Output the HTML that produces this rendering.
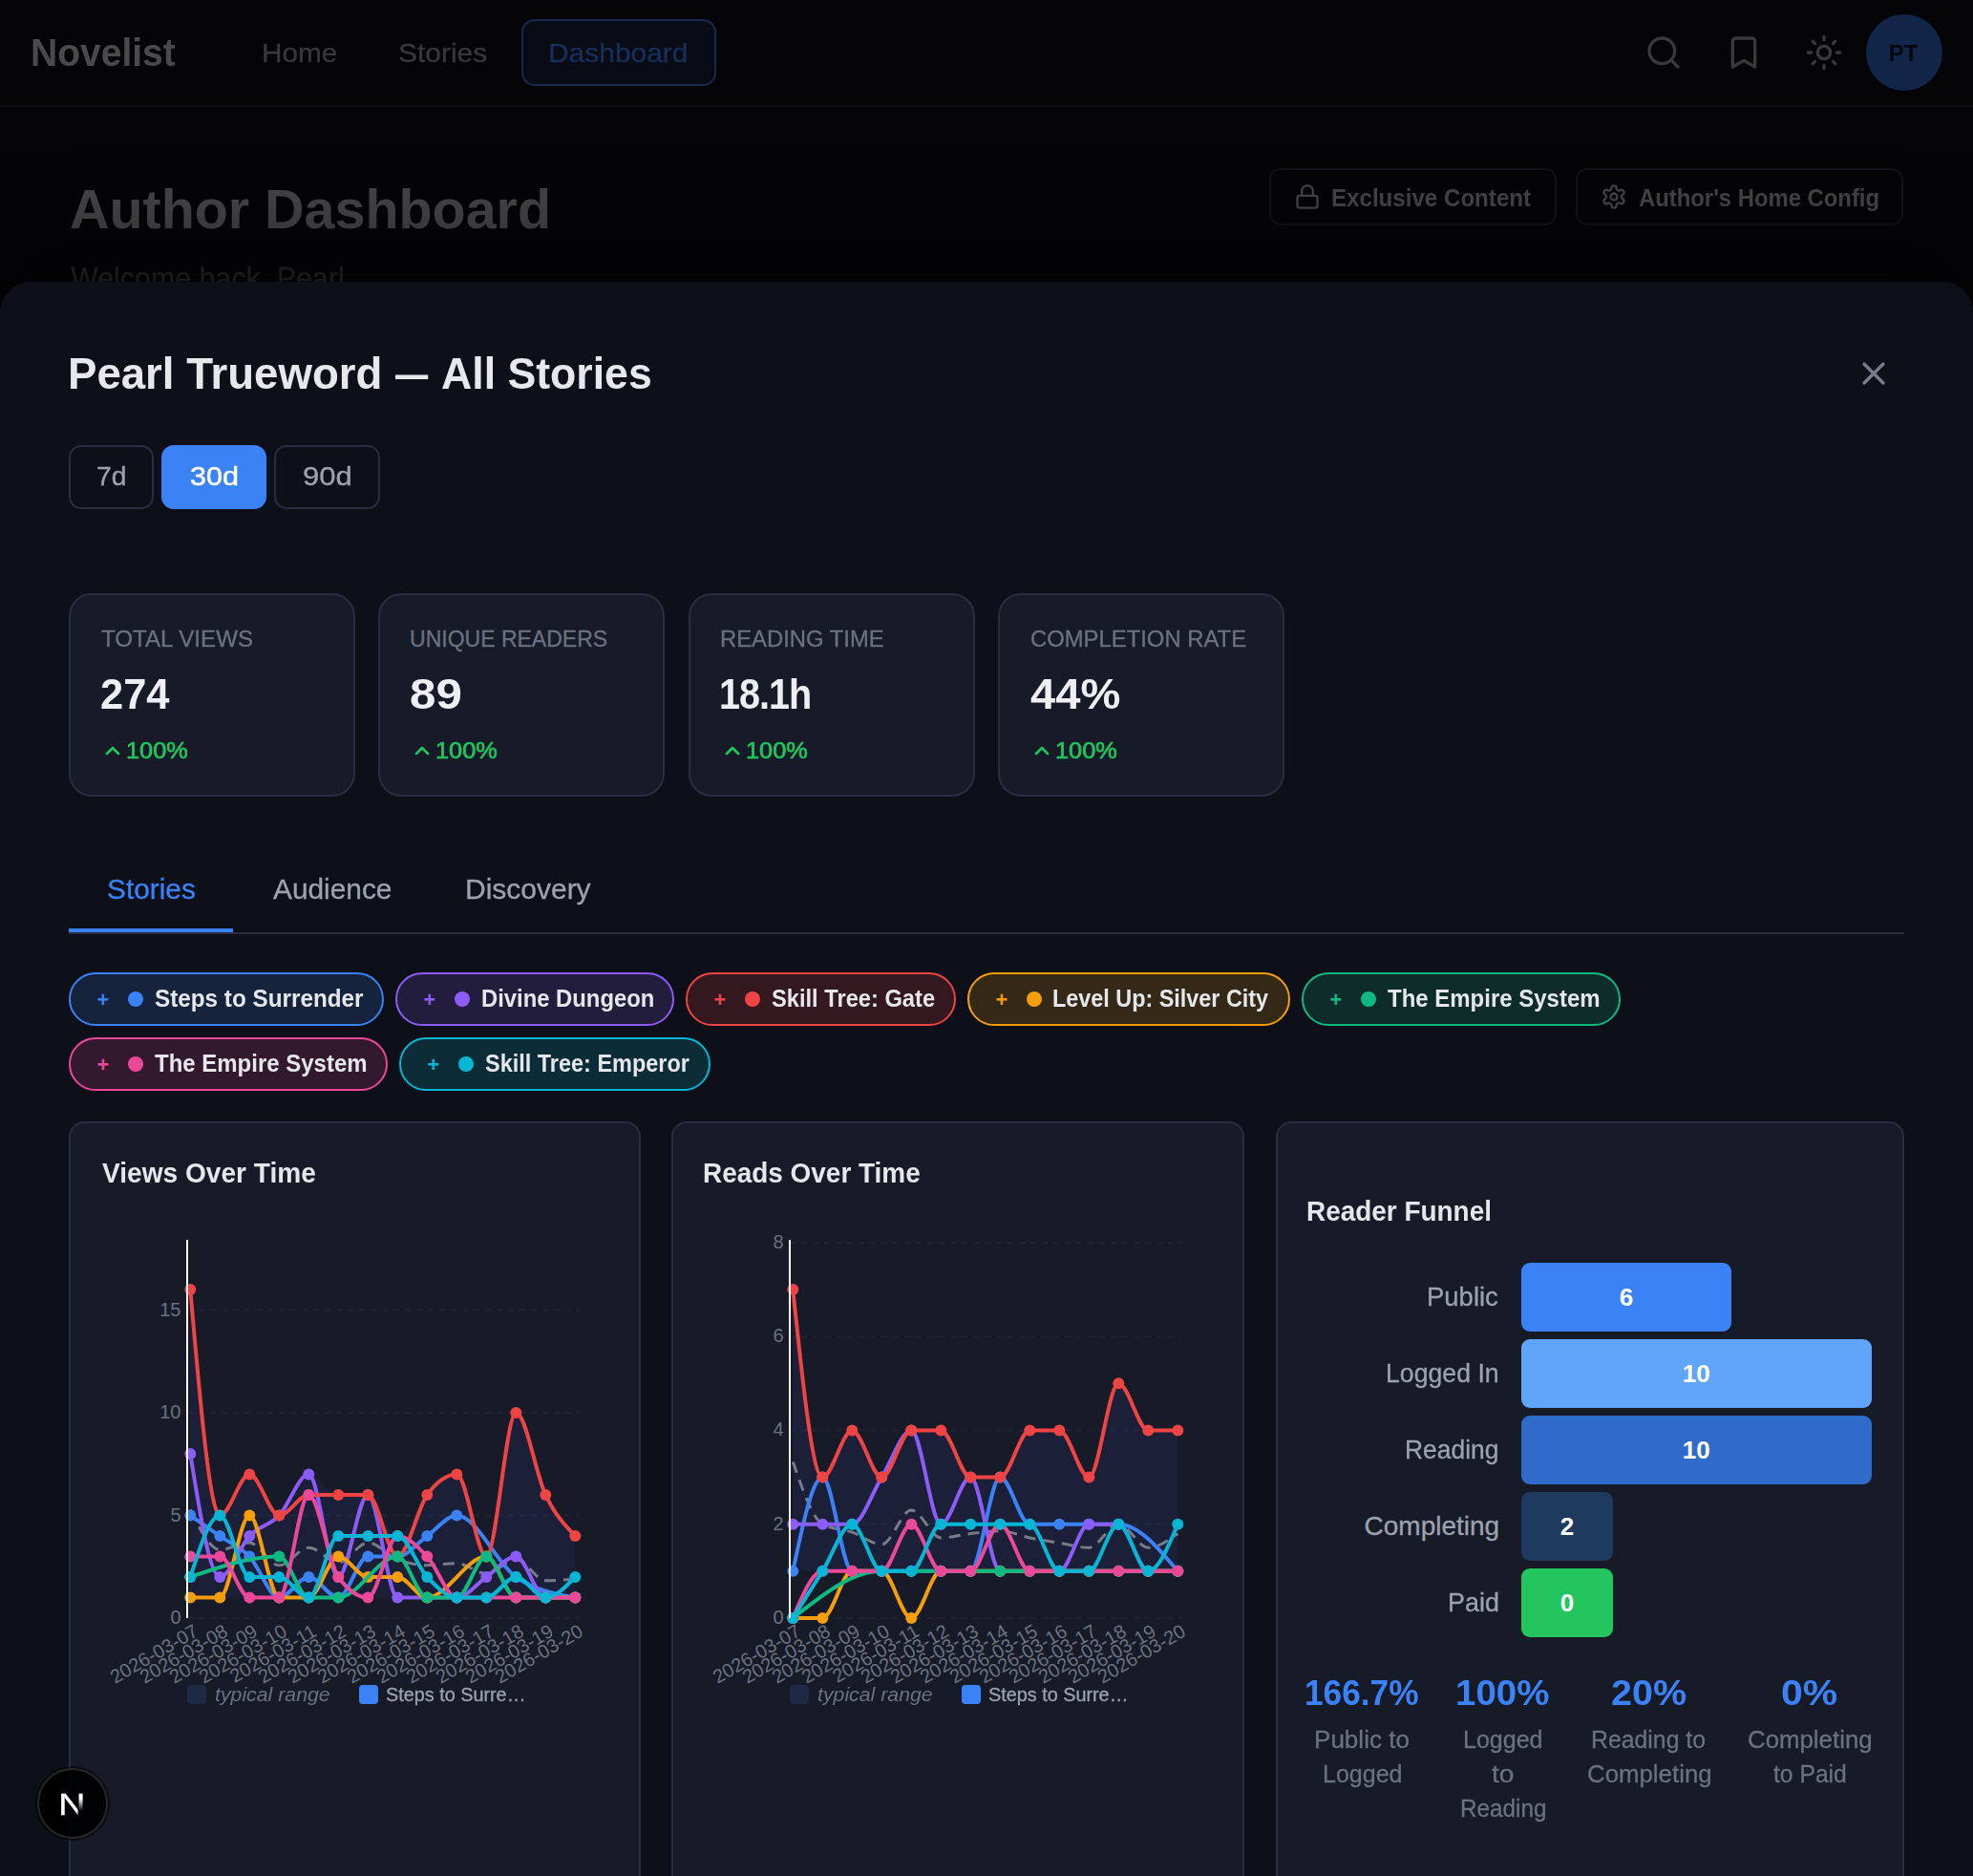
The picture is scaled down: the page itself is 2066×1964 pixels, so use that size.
<!DOCTYPE html>
<html lang="en">
<head>
<meta charset="utf-8">
<title>Novelist - Author Dashboard</title>
<style>
html,body{margin:0;padding:0;}
body{width:2066px;height:1964px;overflow:hidden;position:relative;background:#050508;font-family:"Liberation Sans",Arial,sans-serif;-webkit-font-smoothing:antialiased;}
.b{position:absolute;box-sizing:border-box;display:block;}
.t{position:absolute;line-height:1;white-space:nowrap;display:block;transform-origin:0 50%;}
@media (max-width:1400px){html{zoom:0.5;}}
</style>
</head>
<body>
<header aria-label="Site navigation">
<div class="b" style="left:0px;top:110px;width:2066px;height:2px;background:#0e0f15;"></div>
<span class="t" style="left:31.64px;top:35.34px;font-size:40px;color:#4a4a4c;font-weight:700;transform:scaleX(0.9757);">Novelist</span>
<span class="t" style="left:274.31px;top:41.70px;font-size:28px;color:#38393b;transform:scaleX(1.0611);-webkit-text-stroke:0.3px #38393b;">Home</span>
<span class="t" style="left:416.76px;top:41.70px;font-size:28px;color:#38393b;transform:scaleX(1.0698);-webkit-text-stroke:0.3px #38393b;">Stories</span>
<div class="b" style="left:546px;top:20px;width:204px;height:70px;background:#090b15;border:2px solid #162a4e;border-radius:14px;"></div>
<span class="t" style="left:574.09px;top:41.70px;font-size:28px;color:#17305a;transform:scaleX(1.0692);-webkit-text-stroke:0.3px #17305a;">Dashboard</span>
<svg class="b" style="left:1722px;top:35px;" width="40" height="40" viewBox="0 0 24 24" fill="none" stroke="#38393b" stroke-width="2" stroke-linecap="round" stroke-linejoin="round"><circle cx="11" cy="11" r="8"/><path d="m21 21-4.3-4.3"/></svg>
<svg class="b" style="left:1806px;top:35px;" width="40" height="40" viewBox="0 0 24 24" fill="none" stroke="#38393b" stroke-width="2" stroke-linecap="round" stroke-linejoin="round"><path d="m19 21-7-4-7 4V5a2 2 0 0 1 2-2h10a2 2 0 0 1 2 2v16z"/></svg>
<svg class="b" style="left:1890px;top:35px;" width="40" height="40" viewBox="0 0 24 24" fill="none" stroke="#38393b" stroke-width="2" stroke-linecap="round" stroke-linejoin="round"><circle cx="12" cy="12" r="4"/><path d="M12 2v2"/><path d="M12 20v2"/><path d="m4.93 4.93 1.41 1.41"/><path d="m17.66 17.66 1.41 1.41"/><path d="M2 12h2"/><path d="M20 12h2"/><path d="m6.34 17.66-1.41 1.41"/><path d="m19.07 4.93-1.41 1.41"/></svg>
<div class="b" style="left:1954px;top:15px;width:80px;height:80px;background:#12264a;border-radius:40px;"></div>
<span class="t" style="left:1977.80px;top:43.68px;font-size:24px;color:#05080f;font-weight:700;">PT</span>
</header>
<main aria-label="Author Dashboard">
<span class="t" style="left:72.74px;top:189.80px;font-size:58px;color:#444446;font-weight:700;transform:scaleX(0.9899);">Author Dashboard</span>
<span class="t" style="left:73.68px;top:274.91px;font-size:32px;color:#2b2b2d;transform:scaleX(0.9499);-webkit-text-stroke:0.3px #2b2b2d;">Welcome back, Pearl</span>
<div class="b" style="left:1329px;top:176px;width:301px;height:60px;border:2px solid #121318;border-radius:12px;"></div>
<svg class="b" style="left:1354.7px;top:191.5px;" width="28" height="28" viewBox="0 0 24 24" fill="none" stroke="#444446" stroke-width="2" stroke-linecap="round" stroke-linejoin="round"><rect width="18" height="11" x="3" y="11" rx="2" ry="2"/><path d="M7 11V7a5 5 0 0 1 10 0v4"/></svg>
<span class="t" style="left:1394.39px;top:193.99px;font-size:26px;color:#444446;font-weight:700;transform:scaleX(0.9275);">Exclusive Content</span>
<div class="b" style="left:1650px;top:176px;width:343px;height:60px;border:2px solid #121318;border-radius:12px;"></div>
<svg class="b" style="left:1676px;top:191.5px;" width="28" height="28" viewBox="0 0 24 24" fill="none" stroke="#444446" stroke-width="2" stroke-linecap="round" stroke-linejoin="round"><path d="M12.22 2h-.44a2 2 0 0 0-2 2v.18a2 2 0 0 1-1 1.73l-.43.25a2 2 0 0 1-2 0l-.15-.08a2 2 0 0 0-2.73.73l-.22.38a2 2 0 0 0 .73 2.73l.15.1a2 2 0 0 1 1 1.72v.51a2 2 0 0 1-1 1.74l-.15.09a2 2 0 0 0-.73 2.73l.22.38a2 2 0 0 0 2.73.73l.15-.08a2 2 0 0 1 2 0l.43.25a2 2 0 0 1 1 1.73V20a2 2 0 0 0 2 2h.44a2 2 0 0 0 2-2v-.18a2 2 0 0 1 1-1.73l.43-.25a2 2 0 0 1 2 0l.15.08a2 2 0 0 0 2.73-.73l.22-.39a2 2 0 0 0-.73-2.73l-.15-.08a2 2 0 0 1-1-1.74v-.5a2 2 0 0 1 1-1.74l.15-.09a2 2 0 0 0 .73-2.73l-.22-.38a2 2 0 0 0-2.73-.73l-.15.08a2 2 0 0 1-2 0l-.43-.25a2 2 0 0 1-1-1.73V4a2 2 0 0 0-2-2z"/><circle cx="12" cy="12" r="3"/></svg>
<span class="t" style="left:1715.63px;top:193.99px;font-size:26px;color:#444446;font-weight:700;transform:scaleX(0.9170);">Author's Home Config</span>
</main>
<section role="dialog" aria-modal="true" aria-label="Pearl Trueword - All Stories analytics">
<div class="b" style="left:0px;top:295px;width:2066px;height:1700px;background:#0e1019;border-radius:32px 32px 0 0;box-shadow:0 -30px 90px rgba(0,0,0,0.55);"></div>
<span class="t" style="left:71.43px;top:368.36px;font-size:46px;color:#e7e8ec;font-weight:700;transform:scaleX(0.9909);">Pearl Trueword</span>
<span class="t" style="left:413.50px;top:368.61px;font-size:45px;color:#e7e8ec;font-weight:700;transform:scaleX(0.76);transform-origin:0 50%;">—</span>
<span class="t" style="left:461.91px;top:368.36px;font-size:46px;color:#e7e8ec;font-weight:700;transform:scaleX(0.9702);">All Stories</span>
<svg class="b" style="left:1942px;top:371px;" width="40" height="40" viewBox="0 0 24 24" fill="none" stroke="#787d8c" stroke-width="2" stroke-linecap="round" stroke-linejoin="round"><path d="M18 6 6 18"/><path d="m6 6 12 12"/></svg>
<div class="b" style="left:72px;top:466px;width:89px;height:67px;border:2px solid #2a2d40;border-radius:13px;"></div>
<span class="t" style="left:101.11px;top:484.50px;font-size:28px;color:#9ca3af;transform:scaleX(1.0098);-webkit-text-stroke:0.3px #9ca3af;">7d</span>
<div class="b" style="left:169px;top:466px;width:110px;height:67px;background:#3b82f6;border-radius:13px;"></div>
<span class="t" style="left:198.91px;top:484.50px;font-size:28px;color:#ffffff;transform:scaleX(1.0909);-webkit-text-stroke:0.5px #ffffff;">30d</span>
<div class="b" style="left:287px;top:466px;width:111px;height:67px;border:2px solid #2a2d40;border-radius:13px;"></div>
<span class="t" style="left:316.51px;top:484.50px;font-size:28px;color:#9ca3af;transform:scaleX(1.1109);-webkit-text-stroke:0.3px #9ca3af;">90d</span>
<div class="b" style="left:72px;top:621px;width:300px;height:213px;background:#171a27;border:2px solid #2a2d40;border-radius:24px;"></div>
<span class="t" style="left:106.28px;top:657.53px;font-size:23px;color:#6b7280;transform:scaleX(1.0483);-webkit-text-stroke:0.3px #6b7280;">TOTAL VIEWS</span>
<span class="t" style="left:105.32px;top:704.75px;font-size:44px;color:#eeeff2;font-weight:700;transform:scaleX(0.9882);">274</span>
<svg class="b" style="left:106px;top:774px;" width="24" height="24" viewBox="0 0 24 24" fill="none" stroke="#22c55e" stroke-width="2.7" stroke-linecap="round" stroke-linejoin="round"><path d="m18 15-6-6-6 6"/></svg>
<span class="t" style="left:132.25px;top:773.78px;font-size:24px;color:#22c55e;transform:scaleX(1.0553);-webkit-text-stroke:0.7px #22c55e;">100%</span>
<div class="b" style="left:396px;top:621px;width:300px;height:213px;background:#171a27;border:2px solid #2a2d40;border-radius:24px;"></div>
<span class="t" style="left:429.05px;top:657.53px;font-size:23px;color:#6b7280;-webkit-text-stroke:0.3px #6b7280;">UNIQUE READERS</span>
<span class="t" style="left:429.26px;top:704.75px;font-size:44px;color:#eeeff2;font-weight:700;letter-spacing:0.161px;transform:scaleX(1.1200);">89</span>
<svg class="b" style="left:430px;top:774px;" width="24" height="24" viewBox="0 0 24 24" fill="none" stroke="#22c55e" stroke-width="2.7" stroke-linecap="round" stroke-linejoin="round"><path d="m18 15-6-6-6 6"/></svg>
<span class="t" style="left:456.25px;top:773.78px;font-size:24px;color:#22c55e;transform:scaleX(1.0553);-webkit-text-stroke:0.7px #22c55e;">100%</span>
<div class="b" style="left:721px;top:621px;width:300px;height:213px;background:#171a27;border:2px solid #2a2d40;border-radius:24px;"></div>
<span class="t" style="left:753.86px;top:657.53px;font-size:23px;color:#6b7280;transform:scaleX(1.0364);-webkit-text-stroke:0.3px #6b7280;">READING TIME</span>
<span class="t" style="left:753.32px;top:704.75px;font-size:44px;color:#eeeff2;font-weight:700;letter-spacing:-1.115px;transform:scaleX(0.9000);">18.1h</span>
<svg class="b" style="left:755px;top:774px;" width="24" height="24" viewBox="0 0 24 24" fill="none" stroke="#22c55e" stroke-width="2.7" stroke-linecap="round" stroke-linejoin="round"><path d="m18 15-6-6-6 6"/></svg>
<span class="t" style="left:781.25px;top:773.78px;font-size:24px;color:#22c55e;transform:scaleX(1.0553);-webkit-text-stroke:0.7px #22c55e;">100%</span>
<div class="b" style="left:1045px;top:621px;width:300px;height:213px;background:#171a27;border:2px solid #2a2d40;border-radius:24px;"></div>
<span class="t" style="left:1078.63px;top:657.53px;font-size:23px;color:#6b7280;transform:scaleX(1.0366);-webkit-text-stroke:0.3px #6b7280;">COMPLETION RATE</span>
<span class="t" style="left:1079.13px;top:704.75px;font-size:44px;color:#eeeff2;font-weight:700;transform:scaleX(1.0709);">44%</span>
<svg class="b" style="left:1079px;top:774px;" width="24" height="24" viewBox="0 0 24 24" fill="none" stroke="#22c55e" stroke-width="2.7" stroke-linecap="round" stroke-linejoin="round"><path d="m18 15-6-6-6 6"/></svg>
<span class="t" style="left:1105.25px;top:773.78px;font-size:24px;color:#22c55e;transform:scaleX(1.0553);-webkit-text-stroke:0.7px #22c55e;">100%</span>
<div class="b" style="left:72px;top:976px;width:1922px;height:2px;background:#292c3d;"></div>
<div class="b" style="left:72px;top:972px;width:172px;height:4px;background:#3b82f6;"></div>
<span class="t" style="left:111.51px;top:916.85px;font-size:29px;color:#3b82f6;transform:scaleX(1.0284);-webkit-text-stroke:0.3px #3b82f6;">Stories</span>
<span class="t" style="left:285.60px;top:916.85px;font-size:29px;color:#9ca3af;transform:scaleX(1.0290);-webkit-text-stroke:0.3px #9ca3af;">Audience</span>
<span class="t" style="left:487.44px;top:916.85px;font-size:29px;color:#9ca3af;transform:scaleX(1.0338);-webkit-text-stroke:0.3px #9ca3af;">Discovery</span>
<div class="b" style="left:72px;top:1018px;width:330px;height:56px;background:rgba(59,130,246,0.17);border:2px solid #3b82f6;border-radius:28px;"></div>
<span class="t" style="left:101.53px;top:1037.40px;font-size:21.5px;color:#3b82f6;font-weight:700;">+</span>
<div class="b" style="left:134px;top:1038px;width:16px;height:16px;background:#3b82f6;border-radius:8px;"></div>
<span class="t" style="left:161.80px;top:1032.49px;font-size:26px;color:#e5e7eb;font-weight:700;transform:scaleX(0.9335);">Steps to Surrender</span>
<div class="b" style="left:414px;top:1018px;width:292px;height:56px;background:rgba(139,92,246,0.17);border:2px solid #8b5cf6;border-radius:28px;"></div>
<span class="t" style="left:443.52px;top:1037.40px;font-size:21.5px;color:#8b5cf6;font-weight:700;">+</span>
<div class="b" style="left:476px;top:1038px;width:16px;height:16px;background:#8b5cf6;border-radius:8px;"></div>
<span class="t" style="left:503.71px;top:1032.49px;font-size:26px;color:#e5e7eb;font-weight:700;transform:scaleX(0.9160);">Divine Dungeon</span>
<div class="b" style="left:718px;top:1018px;width:283px;height:56px;background:rgba(239,68,68,0.17);border:2px solid #ef4444;border-radius:28px;"></div>
<span class="t" style="left:747.52px;top:1037.40px;font-size:21.5px;color:#ef4444;font-weight:700;">+</span>
<div class="b" style="left:780px;top:1038px;width:16px;height:16px;background:#ef4444;border-radius:8px;"></div>
<span class="t" style="left:807.72px;top:1032.49px;font-size:26px;color:#e5e7eb;font-weight:700;transform:scaleX(0.9106);">Skill Tree: Gate</span>
<div class="b" style="left:1013px;top:1018px;width:338px;height:56px;background:rgba(245,158,11,0.17);border:2px solid #f59e0b;border-radius:28px;"></div>
<span class="t" style="left:1042.53px;top:1037.40px;font-size:21.5px;color:#f59e0b;font-weight:700;">+</span>
<div class="b" style="left:1075px;top:1038px;width:16px;height:16px;background:#f59e0b;border-radius:8px;"></div>
<span class="t" style="left:1101.74px;top:1032.49px;font-size:26px;color:#e5e7eb;font-weight:700;letter-spacing:-0.010px;transform:scaleX(0.9000);">Level Up: Silver City</span>
<div class="b" style="left:1363px;top:1018px;width:334px;height:56px;background:rgba(16,185,129,0.17);border:2px solid #10b981;border-radius:28px;"></div>
<span class="t" style="left:1392.53px;top:1037.40px;font-size:21.5px;color:#10b981;font-weight:700;">+</span>
<div class="b" style="left:1425px;top:1038px;width:16px;height:16px;background:#10b981;border-radius:8px;"></div>
<span class="t" style="left:1453.17px;top:1032.49px;font-size:26px;color:#e5e7eb;font-weight:700;transform:scaleX(0.9223);">The Empire System</span>
<div class="b" style="left:72px;top:1086px;width:334px;height:56px;background:rgba(236,72,153,0.17);border:2px solid #ec4899;border-radius:28px;"></div>
<span class="t" style="left:101.53px;top:1105.40px;font-size:21.5px;color:#ec4899;font-weight:700;">+</span>
<div class="b" style="left:134px;top:1106px;width:16px;height:16px;background:#ec4899;border-radius:8px;"></div>
<span class="t" style="left:162.27px;top:1100.49px;font-size:26px;color:#e5e7eb;font-weight:700;transform:scaleX(0.9223);">The Empire System</span>
<div class="b" style="left:418px;top:1086px;width:326px;height:56px;background:rgba(6,182,212,0.17);border:2px solid #06b6d4;border-radius:28px;"></div>
<span class="t" style="left:447.52px;top:1105.40px;font-size:21.5px;color:#06b6d4;font-weight:700;">+</span>
<div class="b" style="left:480px;top:1106px;width:16px;height:16px;background:#06b6d4;border-radius:8px;"></div>
<span class="t" style="left:508.02px;top:1100.49px;font-size:26px;color:#e5e7eb;font-weight:700;transform:scaleX(0.9026);">Skill Tree: Emperor</span>
<div class="b" style="left:72px;top:1174px;width:599px;height:900px;background:#171a27;border:2px solid #2a2d40;border-radius:16px;"></div>
<div class="b" style="left:703px;top:1174px;width:600px;height:900px;background:#171a27;border:2px solid #2a2d40;border-radius:16px;"></div>
<div class="b" style="left:1336px;top:1174px;width:658px;height:900px;background:#171a27;border:2px solid #2a2d40;border-radius:16px;"></div>
<span class="t" style="left:106.58px;top:1213.85px;font-size:29px;color:#e5e7eb;font-weight:700;transform:scaleX(0.9690);">Views Over Time</span>
<span class="t" style="left:736.39px;top:1213.85px;font-size:29px;color:#e5e7eb;font-weight:700;transform:scaleX(0.9631);">Reads Over Time</span>
<span class="t" style="left:1367.59px;top:1254.15px;font-size:29px;color:#e5e7eb;font-weight:700;transform:scaleX(0.9629);">Reader Funnel</span>
<svg class="b" style="left:72px;top:1280px" width="560" height="540" viewBox="72 1280 560 540" font-family="Liberation Sans, Arial, sans-serif" role="img" aria-label="Views Over Time"><line x1="196" x2="606" y1="1694.00" y2="1694.00" stroke="#1f2435" stroke-width="2" stroke-dasharray="6 6"/><line x1="196" x2="606" y1="1586.53" y2="1586.53" stroke="#1f2435" stroke-width="2" stroke-dasharray="6 6"/><line x1="196" x2="606" y1="1479.05" y2="1479.05" stroke="#1f2435" stroke-width="2" stroke-dasharray="6 6"/><line x1="196" x2="606" y1="1371.58" y2="1371.58" stroke="#1f2435" stroke-width="2" stroke-dasharray="6 6"/><text x="189.5" y="1700.00" text-anchor="end" font-size="20" fill="#6b7280">0</text><text x="189.5" y="1592.53" text-anchor="end" font-size="20" fill="#6b7280">5</text><text x="189.5" y="1485.05" text-anchor="end" font-size="20" fill="#6b7280">10</text><text x="189.5" y="1377.58" text-anchor="end" font-size="20" fill="#6b7280">15</text><text x="209.00" y="1711.80" text-anchor="end" font-size="20" fill="#6b7280" transform="rotate(-30 209.00 1711.80)">2026-03-07</text><text x="240.00" y="1711.80" text-anchor="end" font-size="20" fill="#6b7280" transform="rotate(-30 240.00 1711.80)">2026-03-08</text><text x="271.00" y="1711.80" text-anchor="end" font-size="20" fill="#6b7280" transform="rotate(-30 271.00 1711.80)">2026-03-09</text><text x="302.00" y="1711.80" text-anchor="end" font-size="20" fill="#6b7280" transform="rotate(-30 302.00 1711.80)">2026-03-10</text><text x="333.00" y="1711.80" text-anchor="end" font-size="20" fill="#6b7280" transform="rotate(-30 333.00 1711.80)">2026-03-11</text><text x="364.00" y="1711.80" text-anchor="end" font-size="20" fill="#6b7280" transform="rotate(-30 364.00 1711.80)">2026-03-12</text><text x="395.00" y="1711.80" text-anchor="end" font-size="20" fill="#6b7280" transform="rotate(-30 395.00 1711.80)">2026-03-13</text><text x="426.00" y="1711.80" text-anchor="end" font-size="20" fill="#6b7280" transform="rotate(-30 426.00 1711.80)">2026-03-14</text><text x="457.00" y="1711.80" text-anchor="end" font-size="20" fill="#6b7280" transform="rotate(-30 457.00 1711.80)">2026-03-15</text><text x="488.00" y="1711.80" text-anchor="end" font-size="20" fill="#6b7280" transform="rotate(-30 488.00 1711.80)">2026-03-16</text><text x="519.00" y="1711.80" text-anchor="end" font-size="20" fill="#6b7280" transform="rotate(-30 519.00 1711.80)">2026-03-17</text><text x="550.00" y="1711.80" text-anchor="end" font-size="20" fill="#6b7280" transform="rotate(-30 550.00 1711.80)">2026-03-18</text><text x="581.00" y="1711.80" text-anchor="end" font-size="20" fill="#6b7280" transform="rotate(-30 581.00 1711.80)">2026-03-19</text><text x="612.00" y="1711.80" text-anchor="end" font-size="20" fill="#6b7280" transform="rotate(-30 612.00 1711.80)">2026-03-20</text><path d="M199.30,1350.09C209.63,1468.31,219.97,1586.53,230.30,1586.53C240.63,1586.53,250.97,1543.54,261.30,1543.54C271.63,1543.54,281.97,1586.53,292.30,1586.53C302.63,1586.53,312.97,1543.54,323.30,1543.54C333.63,1543.54,343.97,1565.03,354.30,1565.03C364.63,1565.03,374.97,1565.03,385.30,1565.03C395.63,1565.03,405.97,1608.02,416.30,1608.02C426.63,1608.02,436.97,1575.78,447.30,1565.03C457.63,1554.29,467.97,1543.54,478.30,1543.54C488.63,1543.54,498.97,1629.52,509.30,1629.52C519.63,1629.52,529.97,1479.05,540.30,1479.05C550.63,1479.05,560.97,1543.54,571.30,1565.03C581.63,1586.53,591.97,1597.27,602.30,1608.02L602.30,1672.51C591.97,1672.51,581.63,1672.51,571.30,1672.51C560.97,1672.51,550.63,1672.51,540.30,1672.51C529.97,1672.51,519.63,1672.51,509.30,1672.51C498.97,1672.51,488.63,1672.51,478.30,1672.51C467.97,1672.51,457.63,1672.51,447.30,1672.51C436.97,1672.51,426.63,1672.51,416.30,1672.51C405.97,1672.51,395.63,1672.51,385.30,1672.51C374.97,1672.51,364.63,1672.51,354.30,1672.51C343.97,1672.51,333.63,1672.51,323.30,1672.51C312.97,1672.51,302.63,1672.51,292.30,1672.51C281.97,1672.51,271.63,1672.51,261.30,1672.51C250.97,1672.51,240.63,1672.51,230.30,1672.51C219.97,1672.51,209.63,1672.51,199.30,1672.51Z" fill="rgba(70,110,240,0.085)" stroke="none"/><path d="M199.30,1580.29C209.63,1601.36,219.97,1622.42,230.30,1622.42C240.63,1622.42,250.97,1615.11,261.30,1615.11C271.63,1615.11,281.97,1638.76,292.30,1638.76C302.63,1638.76,312.97,1620.27,323.30,1620.27C333.63,1620.27,343.97,1635.75,354.30,1635.75C364.63,1635.75,374.97,1615.11,385.30,1615.11C395.63,1615.11,405.97,1628.58,416.30,1632.53C426.63,1636.47,436.97,1638.76,447.30,1638.76C457.63,1638.76,467.97,1636.61,478.30,1636.61C488.63,1636.61,498.97,1647.36,509.30,1647.36C519.63,1647.36,529.97,1632.53,540.30,1632.53C550.63,1632.53,560.97,1654.66,571.30,1654.66C581.63,1654.66,591.97,1653.91,602.30,1653.16" fill="none" stroke="#777c88" stroke-width="3" stroke-dasharray="12 8"/><path d="M199.30,1586.53C209.63,1593.69,219.97,1600.86,230.30,1608.02C240.63,1615.19,250.97,1618.77,261.30,1629.52C271.63,1640.26,281.97,1672.51,292.30,1672.51C302.63,1672.51,312.97,1651.01,323.30,1651.01C333.63,1651.01,343.97,1672.51,354.30,1672.51C364.63,1672.51,374.97,1629.52,385.30,1629.52C395.63,1629.52,405.97,1629.52,416.30,1629.52C426.63,1629.52,436.97,1615.19,447.30,1608.02C457.63,1600.86,467.97,1586.53,478.30,1586.53C498.97,1586.53,519.63,1636.68,540.30,1651.01C560.97,1665.34,581.63,1668.92,602.30,1672.51" fill="none" stroke="#3b82f6" stroke-width="4"/><g fill="#3b82f6"><circle cx="199.30" cy="1586.53" r="6"/><circle cx="230.30" cy="1608.02" r="6"/><circle cx="261.30" cy="1629.52" r="6"/><circle cx="292.30" cy="1672.51" r="6"/><circle cx="323.30" cy="1651.01" r="6"/><circle cx="354.30" cy="1672.51" r="6"/><circle cx="385.30" cy="1629.52" r="6"/><circle cx="416.30" cy="1629.52" r="6"/><circle cx="447.30" cy="1608.02" r="6"/><circle cx="478.30" cy="1586.53" r="6"/><circle cx="540.30" cy="1651.01" r="6"/><circle cx="602.30" cy="1672.51" r="6"/></g><path d="M199.30,1522.04C209.63,1586.53,219.97,1651.01,230.30,1651.01C240.63,1651.01,250.97,1618.77,261.30,1608.02C271.63,1597.27,281.97,1597.27,292.30,1586.53C302.63,1575.78,312.97,1543.54,323.30,1543.54C333.63,1543.54,343.97,1651.01,354.30,1651.01C364.63,1651.01,374.97,1565.03,385.30,1565.03C395.63,1565.03,405.97,1672.51,416.30,1672.51C426.63,1672.51,436.97,1672.51,447.30,1672.51C457.63,1672.51,467.97,1672.51,478.30,1672.51C488.63,1672.51,498.97,1658.18,509.30,1651.01C519.63,1643.85,529.97,1629.52,540.30,1629.52C550.63,1629.52,560.97,1672.51,571.30,1672.51C581.63,1672.51,591.97,1672.51,602.30,1672.51" fill="none" stroke="#8b5cf6" stroke-width="4"/><g fill="#8b5cf6"><circle cx="199.30" cy="1522.04" r="6"/><circle cx="230.30" cy="1651.01" r="6"/><circle cx="261.30" cy="1608.02" r="6"/><circle cx="292.30" cy="1586.53" r="6"/><circle cx="323.30" cy="1543.54" r="6"/><circle cx="354.30" cy="1651.01" r="6"/><circle cx="385.30" cy="1565.03" r="6"/><circle cx="416.30" cy="1672.51" r="6"/><circle cx="447.30" cy="1672.51" r="6"/><circle cx="478.30" cy="1672.51" r="6"/><circle cx="509.30" cy="1651.01" r="6"/><circle cx="540.30" cy="1629.52" r="6"/><circle cx="571.30" cy="1672.51" r="6"/><circle cx="602.30" cy="1672.51" r="6"/></g><path d="M199.30,1350.09C209.63,1468.31,219.97,1586.53,230.30,1586.53C240.63,1586.53,250.97,1543.54,261.30,1543.54C271.63,1543.54,281.97,1586.53,292.30,1586.53C302.63,1586.53,312.97,1565.03,323.30,1565.03C333.63,1565.03,343.97,1565.03,354.30,1565.03C364.63,1565.03,374.97,1565.03,385.30,1565.03C395.63,1565.03,405.97,1629.52,416.30,1629.52C426.63,1629.52,436.97,1579.36,447.30,1565.03C457.63,1550.70,467.97,1543.54,478.30,1543.54C488.63,1543.54,498.97,1629.52,509.30,1629.52C519.63,1629.52,529.97,1479.05,540.30,1479.05C550.63,1479.05,560.97,1543.54,571.30,1565.03C581.63,1586.53,591.97,1597.27,602.30,1608.02" fill="none" stroke="#ef4444" stroke-width="4"/><g fill="#ef4444"><circle cx="199.30" cy="1350.09" r="6"/><circle cx="230.30" cy="1586.53" r="6"/><circle cx="261.30" cy="1543.54" r="6"/><circle cx="292.30" cy="1586.53" r="6"/><circle cx="323.30" cy="1565.03" r="6"/><circle cx="354.30" cy="1565.03" r="6"/><circle cx="385.30" cy="1565.03" r="6"/><circle cx="416.30" cy="1629.52" r="6"/><circle cx="447.30" cy="1565.03" r="6"/><circle cx="478.30" cy="1543.54" r="6"/><circle cx="509.30" cy="1629.52" r="6"/><circle cx="540.30" cy="1479.05" r="6"/><circle cx="571.30" cy="1565.03" r="6"/><circle cx="602.30" cy="1608.02" r="6"/></g><path d="M199.30,1672.51C209.63,1672.51,219.97,1672.51,230.30,1672.51C240.63,1672.51,250.97,1586.53,261.30,1586.53C271.63,1586.53,281.97,1672.51,292.30,1672.51C302.63,1672.51,312.97,1672.51,323.30,1672.51C333.63,1672.51,343.97,1629.52,354.30,1629.52C364.63,1629.52,374.97,1651.01,385.30,1651.01C395.63,1651.01,405.97,1651.01,416.30,1651.01C426.63,1651.01,436.97,1672.51,447.30,1672.51C467.97,1672.51,488.63,1629.52,509.30,1629.52C519.63,1629.52,529.97,1672.51,540.30,1672.51C550.63,1672.51,560.97,1672.51,571.30,1672.51C581.63,1672.51,591.97,1672.51,602.30,1672.51" fill="none" stroke="#f59e0b" stroke-width="4"/><g fill="#f59e0b"><circle cx="199.30" cy="1672.51" r="6"/><circle cx="230.30" cy="1672.51" r="6"/><circle cx="261.30" cy="1586.53" r="6"/><circle cx="292.30" cy="1672.51" r="6"/><circle cx="323.30" cy="1672.51" r="6"/><circle cx="354.30" cy="1629.52" r="6"/><circle cx="385.30" cy="1651.01" r="6"/><circle cx="416.30" cy="1651.01" r="6"/><circle cx="447.30" cy="1672.51" r="6"/><circle cx="509.30" cy="1629.52" r="6"/><circle cx="540.30" cy="1672.51" r="6"/><circle cx="571.30" cy="1672.51" r="6"/><circle cx="602.30" cy="1672.51" r="6"/></g><path d="M199.30,1651.01C230.30,1640.26,261.30,1629.52,292.30,1629.52C302.63,1629.52,312.97,1672.51,323.30,1672.51C333.63,1672.51,343.97,1672.51,354.30,1672.51C374.97,1672.51,395.63,1629.52,416.30,1629.52C426.63,1629.52,436.97,1672.51,447.30,1672.51C457.63,1672.51,467.97,1672.51,478.30,1672.51C488.63,1672.51,498.97,1629.52,509.30,1629.52C519.63,1629.52,529.97,1672.51,540.30,1672.51C550.63,1672.51,560.97,1672.51,571.30,1672.51C581.63,1672.51,591.97,1672.51,602.30,1672.51" fill="none" stroke="#10b981" stroke-width="4"/><g fill="#10b981"><circle cx="199.30" cy="1651.01" r="6"/><circle cx="292.30" cy="1629.52" r="6"/><circle cx="323.30" cy="1672.51" r="6"/><circle cx="354.30" cy="1672.51" r="6"/><circle cx="416.30" cy="1629.52" r="6"/><circle cx="447.30" cy="1672.51" r="6"/><circle cx="478.30" cy="1672.51" r="6"/><circle cx="509.30" cy="1629.52" r="6"/><circle cx="540.30" cy="1672.51" r="6"/><circle cx="571.30" cy="1672.51" r="6"/><circle cx="602.30" cy="1672.51" r="6"/></g><path d="M199.30,1629.52C209.63,1629.52,219.97,1629.52,230.30,1629.52C240.63,1629.52,250.97,1672.51,261.30,1672.51C271.63,1672.51,281.97,1672.51,292.30,1672.51C302.63,1672.51,312.97,1565.03,323.30,1565.03C333.63,1565.03,343.97,1636.68,354.30,1651.01C364.63,1665.34,374.97,1672.51,385.30,1672.51C395.63,1672.51,405.97,1608.02,416.30,1608.02C426.63,1608.02,436.97,1618.77,447.30,1629.52C457.63,1640.26,467.97,1672.51,478.30,1672.51C488.63,1672.51,498.97,1672.51,509.30,1672.51C519.63,1672.51,529.97,1672.51,540.30,1672.51C550.63,1672.51,560.97,1672.51,571.30,1672.51C581.63,1672.51,591.97,1672.51,602.30,1672.51" fill="none" stroke="#ec4899" stroke-width="4"/><g fill="#ec4899"><circle cx="199.30" cy="1629.52" r="6"/><circle cx="230.30" cy="1629.52" r="6"/><circle cx="261.30" cy="1672.51" r="6"/><circle cx="292.30" cy="1672.51" r="6"/><circle cx="323.30" cy="1565.03" r="6"/><circle cx="354.30" cy="1651.01" r="6"/><circle cx="385.30" cy="1672.51" r="6"/><circle cx="416.30" cy="1608.02" r="6"/><circle cx="447.30" cy="1629.52" r="6"/><circle cx="478.30" cy="1672.51" r="6"/><circle cx="509.30" cy="1672.51" r="6"/><circle cx="540.30" cy="1672.51" r="6"/><circle cx="571.30" cy="1672.51" r="6"/><circle cx="602.30" cy="1672.51" r="6"/></g><path d="M199.30,1651.01C209.63,1618.77,219.97,1586.53,230.30,1586.53C240.63,1586.53,250.97,1651.01,261.30,1651.01C271.63,1651.01,281.97,1651.01,292.30,1651.01C302.63,1651.01,312.97,1672.51,323.30,1672.51C333.63,1672.51,343.97,1608.02,354.30,1608.02C364.63,1608.02,374.97,1608.02,385.30,1608.02C395.63,1608.02,405.97,1608.02,416.30,1608.02C426.63,1608.02,436.97,1640.26,447.30,1651.01C457.63,1661.76,467.97,1672.51,478.30,1672.51C488.63,1672.51,498.97,1672.51,509.30,1672.51C519.63,1672.51,529.97,1651.01,540.30,1651.01C550.63,1651.01,560.97,1672.51,571.30,1672.51C581.63,1672.51,591.97,1661.76,602.30,1651.01" fill="none" stroke="#06b6d4" stroke-width="4"/><g fill="#06b6d4"><circle cx="199.30" cy="1651.01" r="6"/><circle cx="230.30" cy="1586.53" r="6"/><circle cx="261.30" cy="1651.01" r="6"/><circle cx="292.30" cy="1651.01" r="6"/><circle cx="323.30" cy="1672.51" r="6"/><circle cx="354.30" cy="1608.02" r="6"/><circle cx="385.30" cy="1608.02" r="6"/><circle cx="416.30" cy="1608.02" r="6"/><circle cx="447.30" cy="1651.01" r="6"/><circle cx="478.30" cy="1672.51" r="6"/><circle cx="509.30" cy="1672.51" r="6"/><circle cx="540.30" cy="1651.01" r="6"/><circle cx="571.30" cy="1672.51" r="6"/><circle cx="602.30" cy="1651.01" r="6"/></g><rect x="195" y="1298" width="2" height="396" fill="#ffffff"/></svg>
<div class="b" style="left:196px;top:1764px;width:20px;height:20px;background:#1e2945;border-radius:4px;"></div>
<span class="t" style="left:224.99px;top:1763.95px;font-size:20.5px;color:#6b7280;font-style:italic;transform:scaleX(1.0379);">typical range</span>
<div class="b" style="left:376px;top:1764px;width:20px;height:20px;background:#3b82f6;border-radius:4px;"></div>
<span class="t" style="left:403.75px;top:1763.95px;font-size:20.5px;color:#9ca3af;transform:scaleX(0.9664);-webkit-text-stroke:0.3px #9ca3af;">Steps to Surre…</span>
<svg class="b" style="left:703px;top:1280px" width="560" height="540" viewBox="703 1280 560 540" font-family="Liberation Sans, Arial, sans-serif" role="img" aria-label="Reads Over Time"><line x1="827" x2="1237" y1="1694.00" y2="1694.00" stroke="#1f2435" stroke-width="2" stroke-dasharray="6 6"/><line x1="827" x2="1237" y1="1595.74" y2="1595.74" stroke="#1f2435" stroke-width="2" stroke-dasharray="6 6"/><line x1="827" x2="1237" y1="1497.48" y2="1497.48" stroke="#1f2435" stroke-width="2" stroke-dasharray="6 6"/><line x1="827" x2="1237" y1="1399.22" y2="1399.22" stroke="#1f2435" stroke-width="2" stroke-dasharray="6 6"/><line x1="827" x2="1237" y1="1300.96" y2="1300.96" stroke="#1f2435" stroke-width="2" stroke-dasharray="6 6"/><text x="820.5" y="1700.00" text-anchor="end" font-size="20" fill="#6b7280">0</text><text x="820.5" y="1601.74" text-anchor="end" font-size="20" fill="#6b7280">2</text><text x="820.5" y="1503.48" text-anchor="end" font-size="20" fill="#6b7280">4</text><text x="820.5" y="1405.22" text-anchor="end" font-size="20" fill="#6b7280">6</text><text x="820.5" y="1306.96" text-anchor="end" font-size="20" fill="#6b7280">8</text><text x="840.00" y="1711.80" text-anchor="end" font-size="20" fill="#6b7280" transform="rotate(-30 840.00 1711.80)">2026-03-07</text><text x="871.00" y="1711.80" text-anchor="end" font-size="20" fill="#6b7280" transform="rotate(-30 871.00 1711.80)">2026-03-08</text><text x="902.00" y="1711.80" text-anchor="end" font-size="20" fill="#6b7280" transform="rotate(-30 902.00 1711.80)">2026-03-09</text><text x="933.00" y="1711.80" text-anchor="end" font-size="20" fill="#6b7280" transform="rotate(-30 933.00 1711.80)">2026-03-10</text><text x="964.00" y="1711.80" text-anchor="end" font-size="20" fill="#6b7280" transform="rotate(-30 964.00 1711.80)">2026-03-11</text><text x="995.00" y="1711.80" text-anchor="end" font-size="20" fill="#6b7280" transform="rotate(-30 995.00 1711.80)">2026-03-12</text><text x="1026.00" y="1711.80" text-anchor="end" font-size="20" fill="#6b7280" transform="rotate(-30 1026.00 1711.80)">2026-03-13</text><text x="1057.00" y="1711.80" text-anchor="end" font-size="20" fill="#6b7280" transform="rotate(-30 1057.00 1711.80)">2026-03-14</text><text x="1088.00" y="1711.80" text-anchor="end" font-size="20" fill="#6b7280" transform="rotate(-30 1088.00 1711.80)">2026-03-15</text><text x="1119.00" y="1711.80" text-anchor="end" font-size="20" fill="#6b7280" transform="rotate(-30 1119.00 1711.80)">2026-03-16</text><text x="1150.00" y="1711.80" text-anchor="end" font-size="20" fill="#6b7280" transform="rotate(-30 1150.00 1711.80)">2026-03-17</text><text x="1181.00" y="1711.80" text-anchor="end" font-size="20" fill="#6b7280" transform="rotate(-30 1181.00 1711.80)">2026-03-18</text><text x="1212.00" y="1711.80" text-anchor="end" font-size="20" fill="#6b7280" transform="rotate(-30 1212.00 1711.80)">2026-03-19</text><text x="1243.00" y="1711.80" text-anchor="end" font-size="20" fill="#6b7280" transform="rotate(-30 1243.00 1711.80)">2026-03-20</text><path d="M830.30,1350.09C840.63,1448.35,850.97,1546.61,861.30,1546.61C871.63,1546.61,881.97,1497.48,892.30,1497.48C902.63,1497.48,912.97,1546.61,923.30,1546.61C933.63,1546.61,943.97,1497.48,954.30,1497.48C964.63,1497.48,974.97,1497.48,985.30,1497.48C995.63,1497.48,1005.97,1546.61,1016.30,1546.61C1026.63,1546.61,1036.97,1546.61,1047.30,1546.61C1057.63,1546.61,1067.97,1497.48,1078.30,1497.48C1088.63,1497.48,1098.97,1497.48,1109.30,1497.48C1119.63,1497.48,1129.97,1546.61,1140.30,1546.61C1150.63,1546.61,1160.97,1448.35,1171.30,1448.35C1181.63,1448.35,1191.97,1497.48,1202.30,1497.48C1212.63,1497.48,1222.97,1497.48,1233.30,1497.48L1233.30,1644.87C1222.97,1644.87,1212.63,1644.87,1202.30,1644.87C1191.97,1644.87,1181.63,1644.87,1171.30,1644.87C1160.97,1644.87,1150.63,1644.87,1140.30,1644.87C1129.97,1644.87,1119.63,1644.87,1109.30,1644.87C1098.97,1644.87,1088.63,1644.87,1078.30,1644.87C1067.97,1644.87,1057.63,1644.87,1047.30,1644.87C1036.97,1644.87,1026.63,1644.87,1016.30,1644.87C1005.97,1644.87,995.63,1644.87,985.30,1644.87C974.97,1644.87,964.63,1644.87,954.30,1644.87C943.97,1644.87,933.63,1644.87,923.30,1644.87C912.97,1644.87,902.63,1644.87,892.30,1644.87C881.97,1644.87,871.63,1644.87,861.30,1644.87C850.97,1644.87,840.63,1644.87,830.30,1644.87Z" fill="rgba(70,110,240,0.085)" stroke="none"/><path d="M830.30,1530.40C840.63,1560.28,850.97,1590.17,861.30,1595.74C871.63,1601.31,881.97,1600.57,892.30,1604.09C902.63,1607.61,912.97,1616.87,923.30,1616.87C933.63,1616.87,943.97,1581.00,954.30,1581.00C964.63,1581.00,974.97,1609.99,985.30,1609.99C995.63,1609.99,1005.97,1606.79,1016.30,1605.57C1026.63,1604.34,1036.97,1602.62,1047.30,1602.62C1057.63,1602.62,1067.97,1607.86,1078.30,1609.99C1088.63,1612.12,1098.97,1613.67,1109.30,1615.39C1119.63,1617.11,1129.97,1620.30,1140.30,1620.30C1150.63,1620.30,1160.97,1595.74,1171.30,1595.74C1181.63,1595.74,1191.97,1620.30,1202.30,1620.30C1212.63,1620.30,1222.97,1612.93,1233.30,1605.57" fill="none" stroke="#777c88" stroke-width="3" stroke-dasharray="12 8"/><path d="M830.30,1644.87C840.63,1595.74,850.97,1546.61,861.30,1546.61C871.63,1546.61,881.97,1644.87,892.30,1644.87C902.63,1644.87,912.97,1644.87,923.30,1644.87C933.63,1644.87,943.97,1644.87,954.30,1644.87C964.63,1644.87,974.97,1644.87,985.30,1644.87C995.63,1644.87,1005.97,1644.87,1016.30,1644.87C1026.63,1644.87,1036.97,1546.61,1047.30,1546.61C1057.63,1546.61,1067.97,1595.74,1078.30,1595.74C1088.63,1595.74,1098.97,1595.74,1109.30,1595.74C1119.63,1595.74,1129.97,1595.74,1140.30,1595.74C1150.63,1595.74,1160.97,1595.74,1171.30,1595.74C1191.97,1595.74,1212.63,1620.30,1233.30,1644.87" fill="none" stroke="#3b82f6" stroke-width="4"/><g fill="#3b82f6"><circle cx="830.30" cy="1644.87" r="6"/><circle cx="861.30" cy="1546.61" r="6"/><circle cx="892.30" cy="1644.87" r="6"/><circle cx="923.30" cy="1644.87" r="6"/><circle cx="954.30" cy="1644.87" r="6"/><circle cx="985.30" cy="1644.87" r="6"/><circle cx="1016.30" cy="1644.87" r="6"/><circle cx="1047.30" cy="1546.61" r="6"/><circle cx="1078.30" cy="1595.74" r="6"/><circle cx="1109.30" cy="1595.74" r="6"/><circle cx="1140.30" cy="1595.74" r="6"/><circle cx="1171.30" cy="1595.74" r="6"/><circle cx="1233.30" cy="1644.87" r="6"/></g><path d="M830.30,1595.74C840.63,1595.74,850.97,1595.74,861.30,1595.74C871.63,1595.74,881.97,1595.74,892.30,1595.74C902.63,1595.74,912.97,1562.99,923.30,1546.61C933.63,1530.23,943.97,1497.48,954.30,1497.48C964.63,1497.48,974.97,1595.74,985.30,1595.74C995.63,1595.74,1005.97,1546.61,1016.30,1546.61C1026.63,1546.61,1036.97,1644.87,1047.30,1644.87C1057.63,1644.87,1067.97,1644.87,1078.30,1644.87C1088.63,1644.87,1098.97,1644.87,1109.30,1644.87C1119.63,1644.87,1129.97,1595.74,1140.30,1595.74C1150.63,1595.74,1160.97,1595.74,1171.30,1595.74C1181.63,1595.74,1191.97,1644.87,1202.30,1644.87C1212.63,1644.87,1222.97,1644.87,1233.30,1644.87" fill="none" stroke="#8b5cf6" stroke-width="4"/><g fill="#8b5cf6"><circle cx="830.30" cy="1595.74" r="6"/><circle cx="861.30" cy="1595.74" r="6"/><circle cx="892.30" cy="1595.74" r="6"/><circle cx="923.30" cy="1546.61" r="6"/><circle cx="954.30" cy="1497.48" r="6"/><circle cx="985.30" cy="1595.74" r="6"/><circle cx="1016.30" cy="1546.61" r="6"/><circle cx="1047.30" cy="1644.87" r="6"/><circle cx="1078.30" cy="1644.87" r="6"/><circle cx="1109.30" cy="1644.87" r="6"/><circle cx="1140.30" cy="1595.74" r="6"/><circle cx="1171.30" cy="1595.74" r="6"/><circle cx="1202.30" cy="1644.87" r="6"/><circle cx="1233.30" cy="1644.87" r="6"/></g><path d="M830.30,1350.09C840.63,1448.35,850.97,1546.61,861.30,1546.61C871.63,1546.61,881.97,1497.48,892.30,1497.48C902.63,1497.48,912.97,1546.61,923.30,1546.61C933.63,1546.61,943.97,1497.48,954.30,1497.48C964.63,1497.48,974.97,1497.48,985.30,1497.48C995.63,1497.48,1005.97,1546.61,1016.30,1546.61C1026.63,1546.61,1036.97,1546.61,1047.30,1546.61C1057.63,1546.61,1067.97,1497.48,1078.30,1497.48C1088.63,1497.48,1098.97,1497.48,1109.30,1497.48C1119.63,1497.48,1129.97,1546.61,1140.30,1546.61C1150.63,1546.61,1160.97,1448.35,1171.30,1448.35C1181.63,1448.35,1191.97,1497.48,1202.30,1497.48C1212.63,1497.48,1222.97,1497.48,1233.30,1497.48" fill="none" stroke="#ef4444" stroke-width="4"/><g fill="#ef4444"><circle cx="830.30" cy="1350.09" r="6"/><circle cx="861.30" cy="1546.61" r="6"/><circle cx="892.30" cy="1497.48" r="6"/><circle cx="923.30" cy="1546.61" r="6"/><circle cx="954.30" cy="1497.48" r="6"/><circle cx="985.30" cy="1497.48" r="6"/><circle cx="1016.30" cy="1546.61" r="6"/><circle cx="1047.30" cy="1546.61" r="6"/><circle cx="1078.30" cy="1497.48" r="6"/><circle cx="1109.30" cy="1497.48" r="6"/><circle cx="1140.30" cy="1546.61" r="6"/><circle cx="1171.30" cy="1448.35" r="6"/><circle cx="1202.30" cy="1497.48" r="6"/><circle cx="1233.30" cy="1497.48" r="6"/></g><path d="M830.30,1694.00C840.63,1694.00,850.97,1694.00,861.30,1694.00C871.63,1694.00,881.97,1644.87,892.30,1644.87C902.63,1644.87,912.97,1644.87,923.30,1644.87C933.63,1644.87,943.97,1694.00,954.30,1694.00C964.63,1694.00,974.97,1644.87,985.30,1644.87C995.63,1644.87,1005.97,1644.87,1016.30,1644.87C1026.63,1644.87,1036.97,1644.87,1047.30,1644.87C1057.63,1644.87,1067.97,1644.87,1078.30,1644.87C1088.63,1644.87,1098.97,1644.87,1109.30,1644.87C1119.63,1644.87,1129.97,1644.87,1140.30,1644.87C1150.63,1644.87,1160.97,1644.87,1171.30,1644.87C1181.63,1644.87,1191.97,1644.87,1202.30,1644.87C1212.63,1644.87,1222.97,1644.87,1233.30,1644.87" fill="none" stroke="#f59e0b" stroke-width="4"/><g fill="#f59e0b"><circle cx="830.30" cy="1694.00" r="6"/><circle cx="861.30" cy="1694.00" r="6"/><circle cx="892.30" cy="1644.87" r="6"/><circle cx="923.30" cy="1644.87" r="6"/><circle cx="954.30" cy="1694.00" r="6"/><circle cx="985.30" cy="1644.87" r="6"/><circle cx="1016.30" cy="1644.87" r="6"/><circle cx="1047.30" cy="1644.87" r="6"/><circle cx="1078.30" cy="1644.87" r="6"/><circle cx="1109.30" cy="1644.87" r="6"/><circle cx="1140.30" cy="1644.87" r="6"/><circle cx="1171.30" cy="1644.87" r="6"/><circle cx="1202.30" cy="1644.87" r="6"/><circle cx="1233.30" cy="1644.87" r="6"/></g><path d="M830.30,1694.00C861.30,1669.43,892.30,1644.87,923.30,1644.87C933.63,1644.87,943.97,1644.87,954.30,1644.87C964.63,1644.87,974.97,1644.87,985.30,1644.87C995.63,1644.87,1005.97,1644.87,1016.30,1644.87C1026.63,1644.87,1036.97,1644.87,1047.30,1644.87C1057.63,1644.87,1067.97,1644.87,1078.30,1644.87C1088.63,1644.87,1098.97,1644.87,1109.30,1644.87C1119.63,1644.87,1129.97,1644.87,1140.30,1644.87C1150.63,1644.87,1160.97,1644.87,1171.30,1644.87C1181.63,1644.87,1191.97,1644.87,1202.30,1644.87C1212.63,1644.87,1222.97,1644.87,1233.30,1644.87" fill="none" stroke="#10b981" stroke-width="4"/><g fill="#10b981"><circle cx="830.30" cy="1694.00" r="6"/><circle cx="923.30" cy="1644.87" r="6"/><circle cx="954.30" cy="1644.87" r="6"/><circle cx="985.30" cy="1644.87" r="6"/><circle cx="1016.30" cy="1644.87" r="6"/><circle cx="1047.30" cy="1644.87" r="6"/><circle cx="1078.30" cy="1644.87" r="6"/><circle cx="1109.30" cy="1644.87" r="6"/><circle cx="1140.30" cy="1644.87" r="6"/><circle cx="1171.30" cy="1644.87" r="6"/><circle cx="1202.30" cy="1644.87" r="6"/><circle cx="1233.30" cy="1644.87" r="6"/></g><path d="M830.30,1694.00C840.63,1669.43,850.97,1644.87,861.30,1644.87C871.63,1644.87,881.97,1644.87,892.30,1644.87C902.63,1644.87,912.97,1644.87,923.30,1644.87C933.63,1644.87,943.97,1595.74,954.30,1595.74C964.63,1595.74,974.97,1644.87,985.30,1644.87C995.63,1644.87,1005.97,1644.87,1016.30,1644.87C1026.63,1644.87,1036.97,1595.74,1047.30,1595.74C1057.63,1595.74,1067.97,1644.87,1078.30,1644.87C1088.63,1644.87,1098.97,1644.87,1109.30,1644.87C1119.63,1644.87,1129.97,1644.87,1140.30,1644.87C1150.63,1644.87,1160.97,1644.87,1171.30,1644.87C1181.63,1644.87,1191.97,1644.87,1202.30,1644.87C1212.63,1644.87,1222.97,1644.87,1233.30,1644.87" fill="none" stroke="#ec4899" stroke-width="4"/><g fill="#ec4899"><circle cx="830.30" cy="1694.00" r="6"/><circle cx="861.30" cy="1644.87" r="6"/><circle cx="892.30" cy="1644.87" r="6"/><circle cx="923.30" cy="1644.87" r="6"/><circle cx="954.30" cy="1595.74" r="6"/><circle cx="985.30" cy="1644.87" r="6"/><circle cx="1016.30" cy="1644.87" r="6"/><circle cx="1047.30" cy="1595.74" r="6"/><circle cx="1078.30" cy="1644.87" r="6"/><circle cx="1109.30" cy="1644.87" r="6"/><circle cx="1140.30" cy="1644.87" r="6"/><circle cx="1171.30" cy="1644.87" r="6"/><circle cx="1202.30" cy="1644.87" r="6"/><circle cx="1233.30" cy="1644.87" r="6"/></g><path d="M830.30,1694.00C840.63,1677.62,850.97,1661.25,861.30,1644.87C871.63,1628.49,881.97,1595.74,892.30,1595.74C902.63,1595.74,912.97,1644.87,923.30,1644.87C933.63,1644.87,943.97,1644.87,954.30,1644.87C964.63,1644.87,974.97,1595.74,985.30,1595.74C995.63,1595.74,1005.97,1595.74,1016.30,1595.74C1026.63,1595.74,1036.97,1595.74,1047.30,1595.74C1057.63,1595.74,1067.97,1595.74,1078.30,1595.74C1088.63,1595.74,1098.97,1644.87,1109.30,1644.87C1119.63,1644.87,1129.97,1644.87,1140.30,1644.87C1150.63,1644.87,1160.97,1595.74,1171.30,1595.74C1181.63,1595.74,1191.97,1644.87,1202.30,1644.87C1212.63,1644.87,1222.97,1620.30,1233.30,1595.74" fill="none" stroke="#06b6d4" stroke-width="4"/><g fill="#06b6d4"><circle cx="830.30" cy="1694.00" r="6"/><circle cx="861.30" cy="1644.87" r="6"/><circle cx="892.30" cy="1595.74" r="6"/><circle cx="923.30" cy="1644.87" r="6"/><circle cx="954.30" cy="1644.87" r="6"/><circle cx="985.30" cy="1595.74" r="6"/><circle cx="1016.30" cy="1595.74" r="6"/><circle cx="1047.30" cy="1595.74" r="6"/><circle cx="1078.30" cy="1595.74" r="6"/><circle cx="1109.30" cy="1644.87" r="6"/><circle cx="1140.30" cy="1644.87" r="6"/><circle cx="1171.30" cy="1595.74" r="6"/><circle cx="1202.30" cy="1644.87" r="6"/><circle cx="1233.30" cy="1595.74" r="6"/></g><rect x="826" y="1298" width="2" height="396" fill="#ffffff"/></svg>
<div class="b" style="left:827px;top:1764px;width:20px;height:20px;background:#1e2945;border-radius:4px;"></div>
<span class="t" style="left:855.99px;top:1763.95px;font-size:20.5px;color:#6b7280;font-style:italic;transform:scaleX(1.0379);">typical range</span>
<div class="b" style="left:1007px;top:1764px;width:20px;height:20px;background:#3b82f6;border-radius:4px;"></div>
<span class="t" style="left:1034.75px;top:1763.95px;font-size:20.5px;color:#9ca3af;transform:scaleX(0.9664);-webkit-text-stroke:0.3px #9ca3af;">Steps to Surre…</span>
<span class="t" style="left:1494.09px;top:1344.30px;font-size:28px;color:#9ca3af;transform:scaleX(0.9813);-webkit-text-stroke:0.3px #9ca3af;">Public</span>
<div class="b" style="left:1593px;top:1322px;width:220px;height:72px;background:#3b82f6;border-radius:9px;"></div>
<span class="t" style="left:1695.75px;top:1344.99px;font-size:26px;color:#ffffff;font-weight:700;">6</span>
<span class="t" style="left:1451.26px;top:1424.30px;font-size:28px;color:#9ca3af;transform:scaleX(0.9525);-webkit-text-stroke:0.3px #9ca3af;">Logged In</span>
<div class="b" style="left:1593px;top:1402px;width:367px;height:72px;background:#60a5fa;border-radius:9px;"></div>
<span class="t" style="left:1761.69px;top:1424.99px;font-size:26px;color:#ffffff;font-weight:700;">10</span>
<span class="t" style="left:1471.48px;top:1504.30px;font-size:28px;color:#9ca3af;transform:scaleX(0.9435);-webkit-text-stroke:0.3px #9ca3af;">Reading</span>
<div class="b" style="left:1593px;top:1482px;width:367px;height:72px;background:#2f6bc9;border-radius:9px;"></div>
<span class="t" style="left:1761.69px;top:1504.99px;font-size:26px;color:#ffffff;font-weight:700;">10</span>
<span class="t" style="left:1428.53px;top:1584.30px;font-size:28px;color:#9ca3af;-webkit-text-stroke:0.3px #9ca3af;">Completing</span>
<div class="b" style="left:1593px;top:1562px;width:96px;height:72px;background:#1e3a5f;border-radius:9px;"></div>
<span class="t" style="left:1633.81px;top:1584.99px;font-size:26px;color:#ffffff;font-weight:700;">2</span>
<span class="t" style="left:1516.04px;top:1664.30px;font-size:28px;color:#9ca3af;transform:scaleX(0.9612);-webkit-text-stroke:0.3px #9ca3af;">Paid</span>
<div class="b" style="left:1593px;top:1642px;width:96px;height:72px;background:#22c55e;border-radius:9px;"></div>
<span class="t" style="left:1633.75px;top:1664.99px;font-size:26px;color:#ffffff;font-weight:700;">0</span>
<span class="t" style="left:1366.46px;top:1754.48px;font-size:37px;color:#3b82f6;font-weight:700;transform:scaleX(0.9528);">166.7%</span>
<span class="t" style="left:1376.46px;top:1809.21px;font-size:25.5px;color:#6b7280;transform:scaleX(1.0216);-webkit-text-stroke:0.3px #6b7280;">Public to</span>
<span class="t" style="left:1384.94px;top:1845.21px;font-size:25.5px;color:#6b7280;transform:scaleX(0.9816);-webkit-text-stroke:0.3px #6b7280;">Logged</span>
<span class="t" style="left:1523.96px;top:1754.48px;font-size:37px;color:#3b82f6;font-weight:700;transform:scaleX(1.0404);">100%</span>
<span class="t" style="left:1531.94px;top:1809.21px;font-size:25.5px;color:#6b7280;transform:scaleX(0.9816);-webkit-text-stroke:0.3px #6b7280;">Logged</span>
<span class="t" style="left:1562.48px;top:1845.21px;font-size:25.5px;color:#6b7280;transform:scaleX(1.1069);-webkit-text-stroke:0.3px #6b7280;">to</span>
<span class="t" style="left:1528.50px;top:1881.21px;font-size:25.5px;color:#6b7280;transform:scaleX(0.9521);-webkit-text-stroke:0.3px #6b7280;">Reading</span>
<span class="t" style="left:1686.97px;top:1754.48px;font-size:37px;color:#3b82f6;font-weight:700;transform:scaleX(1.0671);">20%</span>
<span class="t" style="left:1666.20px;top:1809.21px;font-size:25.5px;color:#6b7280;transform:scaleX(0.9730);-webkit-text-stroke:0.3px #6b7280;">Reading to</span>
<span class="t" style="left:1661.53px;top:1845.21px;font-size:25.5px;color:#6b7280;transform:scaleX(1.0125);-webkit-text-stroke:0.3px #6b7280;">Completing</span>
<span class="t" style="left:1865.48px;top:1754.48px;font-size:37px;color:#3b82f6;font-weight:700;transform:scaleX(1.1063);">0%</span>
<span class="t" style="left:1830.23px;top:1809.21px;font-size:25.5px;color:#6b7280;transform:scaleX(1.0125);-webkit-text-stroke:0.3px #6b7280;">Completing</span>
<span class="t" style="left:1857.49px;top:1845.21px;font-size:25.5px;color:#6b7280;transform:scaleX(0.9677);-webkit-text-stroke:0.3px #6b7280;">to Paid</span>
</section>
<aside aria-label="Dev tools">
<div class="b" style="left:39px;top:1851px;width:74px;height:74px;background:rgba(0,0,0,0.92);border:2px solid #272727;border-radius:37px;box-shadow:0 0 0 2px rgba(0,0,0,0.55);"></div>
<span class="t" style="left:61.40px;top:1873.98px;font-size:30.5px;color:#ffffff;-webkit-text-stroke:0.3px #ffffff;transform:scaleX(1.29);-webkit-mask-image:linear-gradient(to right,#000 74%,transparent 74%),linear-gradient(to bottom,#000 30%,transparent 72%);mask-image:linear-gradient(to right,#000 74%,transparent 74%),linear-gradient(to bottom,#000 30%,transparent 72%);">N</span>
</aside>
</body>
</html>
